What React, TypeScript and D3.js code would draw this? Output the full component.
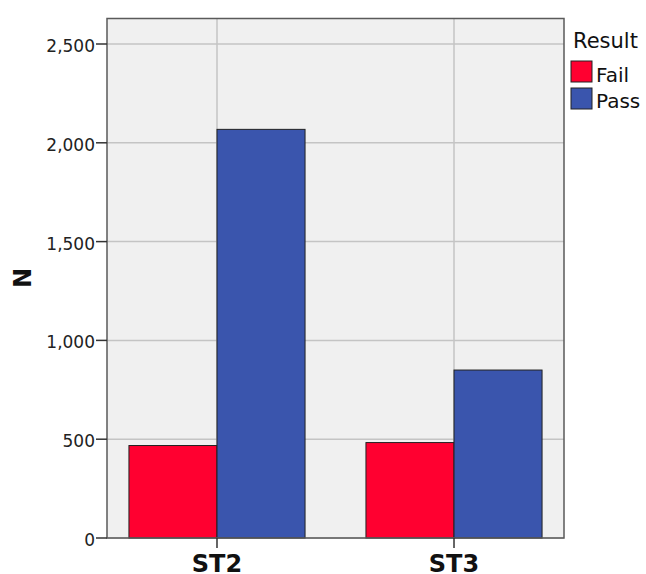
import React from "react";
import * as d3 from "d3";

const categories = ["ST2", "ST3"];
const series = ["Fail", "Pass"];
const failValues = [468, 483];
const passValues = [2068, 850];
const yTicks = [0, 500, 1000, 1500, 2000, 2500];
const colors = ["#ff0030", "#3a55ad"];

const W = 646;
const H = 574;
const left = 107;
const right = 564;
const top = 18.5;
const bottom = 538;

export default function App() {
  const y = d3.scaleLinear().domain([0, 2500]).range([bottom, 44]);
  const x = d3
    .scaleBand<string>()
    .domain(categories)
    .range([left, right])
    .paddingInner(0.257)
    .paddingOuter(0.0926);
  const xs = d3.scaleBand<string>().domain(series).range([0, x.bandwidth()]);
  const values = [failValues, passValues];
  const fmt = d3.format(",");
  const font = "DejaVu Sans, Verdana, sans-serif";

  return (
    <svg
      width={W}
      height={H}
      style={{ position: "absolute", left: 0, top: 0, background: "#fff" }}
      fontFamily={font}
    >
      <rect x={left} y={top} width={right - left} height={bottom - top} fill="#f0f0f0" />
      {yTicks.map((t) => (
        <line key={"g" + t} x1={left} x2={right} y1={y(t)} y2={y(t)} stroke="#c4c4c4" strokeWidth={1.5} />
      ))}
      {categories.map((c) => {
        const cx = (x(c) as number) + x.bandwidth() / 2;
        return <line key={"v" + c} x1={cx} x2={cx} y1={top} y2={bottom} stroke="#c4c4c4" strokeWidth={1.5} />;
      })}
      {categories.map((c, ci) =>
        series.map((s, si) => {
          const v = values[si][ci];
          const bx = (x(c) as number) + (xs(s) as number);
          return (
            <rect
              key={c + s}
              x={bx}
              y={y(v)}
              width={xs.bandwidth()}
              height={y(0) - y(v)}
              fill={colors[si]}
              stroke="#222"
              strokeWidth={1}
            />
          );
        })
      )}
      <rect x={left} y={top} width={right - left} height={bottom - top} fill="none" stroke="#5a5a5a" strokeWidth={1.5} />
      {yTicks.map((t) => (
        <g key={"t" + t}>
          <line x1={left - 11} x2={left} y1={y(t)} y2={y(t)} stroke="#333" strokeWidth={1.5} />
          <text x={left - 12} y={y(t) + 8} textAnchor="end" fontSize={17} fill="#222">
            {fmt(t)}
          </text>
        </g>
      ))}
      {categories.map((c) => {
        const cx = (x(c) as number) + x.bandwidth() / 2;
        return (
          <g key={"c" + c}>
            <line x1={cx} x2={cx} y1={bottom} y2={bottom + 10} stroke="#333" strokeWidth={1.5} />
            <text x={cx} y={572} textAnchor="middle" fontSize={24} fontWeight="bold" fill="#111">
              {c}
            </text>
          </g>
        );
      })}
      <text
        transform={`translate(30.5,278) rotate(-90)`}
        textAnchor="middle"
        fontSize={24}
        fontWeight="bold"
        fill="#111"
      >
        N
      </text>
      <text x={573} y={48.3} fontSize={21} fill="#111">
        Result
      </text>
      {series.map((s, i) => (
        <g key={"l" + s}>
          <rect x={571} y={61 + i * 27} width={21} height={21} fill={colors[i]} stroke="#222" strokeWidth={1} />
          <text x={596} y={82.3 + i * 26} fontSize={20} fill="#111">
            {s}
          </text>
        </g>
      ))}
    </svg>
  );
}
